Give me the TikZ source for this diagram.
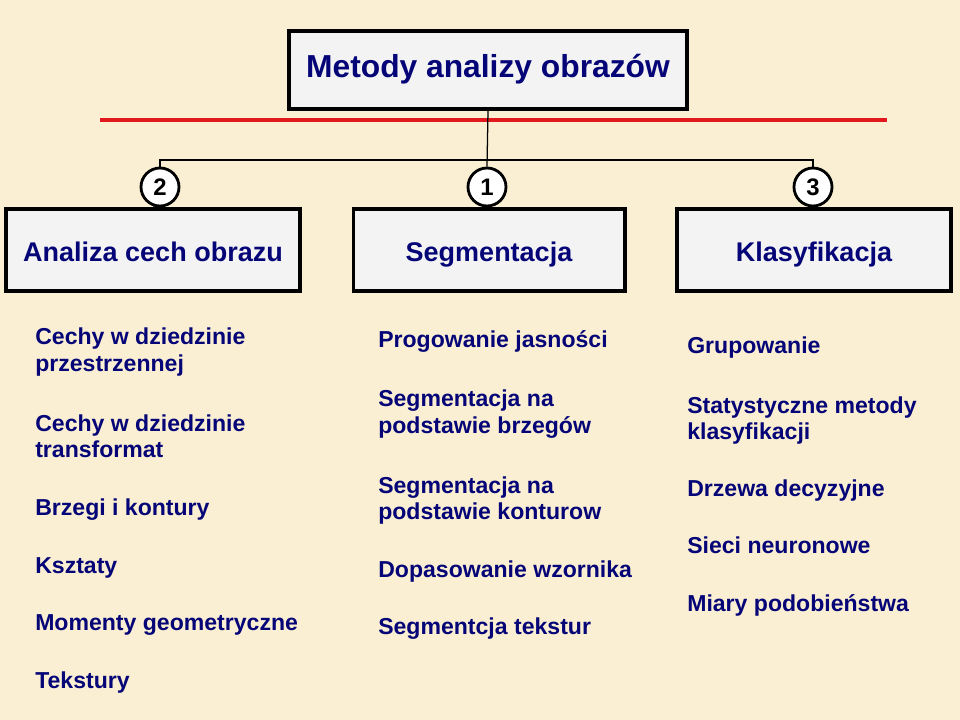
\documentclass[tikz,border=0pt]{standalone}
\usepackage{fontspec}
\setmainfont{Liberation Sans}
\definecolor{paper}{RGB}{250,239,210}
\definecolor{boxgray}{RGB}{243,243,243}
\definecolor{navy}{RGB}{5,5,120}
\definecolor{redline}{RGB}{225,25,30}
\tikzset{
  frame/.style={draw=black, line width=2.8pt, fill=boxgray, text=navy,
    font=\fontsize{19.2}{23}\selectfont\bfseries, inner sep=0pt,
    text height=17pt, text depth=0pt},
  num/.style={draw=black, circle, line width=2pt, fill=white, minimum size=0.95cm,
    inner sep=0pt, font=\fontsize{17}{19}\selectfont\bfseries},
  item/.style={anchor=base west, align=left, text=navy, inner sep=0pt,
    font=\fontsize{16.4}{19.2}\selectfont\bfseries},
  link/.style={draw=black, line width=0.9pt}
}
\begin{document}
\begin{tikzpicture}[x=0.025cm, y=-0.025cm]
  \fill[paper] (0,0) rectangle (960,720);
  \useasboundingbox (0,0) rectangle (960,720);

  % title and red rule
  \node[frame, minimum width=9.925cm, minimum height=1.95cm, text height=10pt,
    font=\fontsize{22.6}{27}\selectfont\bfseries] (title) at (488,70) {Metody analizy obrazów};
  \coordinate (RL) at (100,120);
  \coordinate (RR) at (887,120);
  \draw[redline, line width=2.6pt] (RL) -- (RR);

  % numbered branches
  \node[num] (n2) at (160,187) {2};
  \node[num] (n1) at (487,187) {1};
  \node[num] (n3) at (813,187) {3};
  \coordinate (bus) at (487,160);
  \draw[link] (title.south) -- (n1.north);
  \draw[link] (n2.north) |- (bus) -| (n3.north);

  \node[frame, minimum width=7.35cm, minimum height=2.05cm] (cechy) at (153,250) {Analiza cech obrazu};
  \node[frame, minimum width=6.775cm, minimum height=2.05cm] (segm) at (489,250) {Segmentacja};
  \node[frame, minimum width=6.85cm, minimum height=2.05cm] (klas) at (814,250) {Klasyfikacja};
  \draw[link] (n2.south) -- (cechy.north);
  \draw[link] (n1.south) -- (segm.north);
  \draw[link] (n3.south) -- (klas.north);

  % feature analysis
  \node[item] (c1) at (35,372) {Cechy w dziedzinie\\przestrzennej};
  \node[item] (c2) at (35,458) {Cechy w dziedzinie\\transformat};
  \node[item] (c3) at (35,516) {Brzegi i kontury};
  \node[item] (c4) at (35,573) {Ksztaty};
  \node[item] (c5) at (35,630) {Momenty geometryczne};
  \node[item] (c6) at (35,688) {Tekstury};

  % segmentation
  \node[item] (s1) at (378,348) {Progowanie jasności};
  \node[item] (s2) at (378,434) {Segmentacja na\\podstawie brzegów};
  \node[item] (s3) at (378,520) {Segmentacja na\\podstawie konturow};
  \node[item] (s4) at (378,577) {Dopasowanie wzornika};
  \node[item] (s5) at (378,634) {Segmentcja tekstur};

  % classification
  \node[item] (k1) at (687,354) {Grupowanie};
  \node[item] (k2) at (687,440) {Statystyczne metody\\klasyfikacji};
  \node[item] (k3) at (687,497) {Drzewa decyzyjne};
  \node[item] (k4) at (687,554) {Sieci neuronowe};
  \node[item] (k5) at (687,611) {Miary podobieństwa};
\end{tikzpicture}
\end{document}
